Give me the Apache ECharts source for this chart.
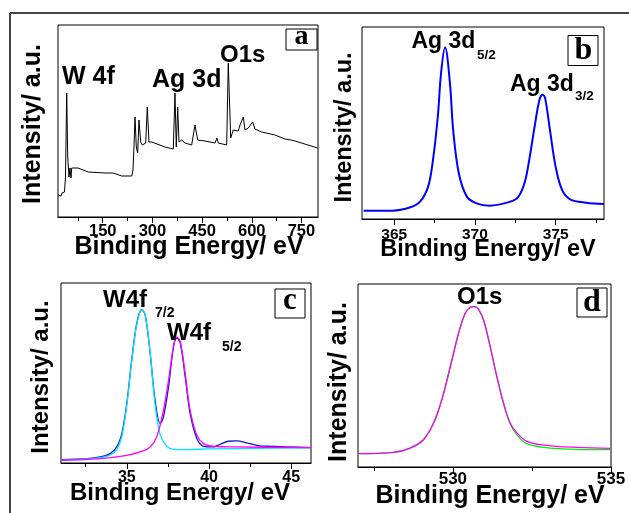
<!DOCTYPE html>
<html>
<head>
<meta charset="utf-8">
<script src="https://cdn.jsdelivr.net/npm/echarts@6/dist/echarts.min.js"></script>
<style>html,body{margin:0;padding:0;background:#fff;}#c{width:629px;height:513px;}</style>
</head>
<body>
<div id="c"></div>
<script>
// ---- Panel a: survey spectrum ----
const surveyBE = [15,19.5,24.1,27.1,31.6,34.6,37.6,41.3,44.3,48.2,51.2,54.2,56.4,75.4,106.5,156.9,181,184,187,207.3,237.5,241.4,244.4,247.5,251.4,255.6,259.5,264.7,269.5,279.8,284.6,289.7,297.9,338,363.1,368.2,372.1,376.4,380.3,388.4,398.4,418.6,428.6,436.7,458.8,489,495,498.9,524.3,529.1,536.4,544.2,559.3,564.5,574.4,579.6,589.5,602.8,609.7,630,670.1,700.3,718.4,730.5,799];
const surveyI  = [22,20,21,24,23,25,40,124,60,40,49,39,49,49,45,44,44,46,44,41,41,47,70,100,70,64,97,75,72,74,110,75,75,70,68,124,70,110,75,77,74,72,92,77,76,74,79,74,72,154,79,87,86,92,100,87,89,95,88,85,82,78,77,76,69];

// ---- Panel b: Ag 3d ----
const agBE = [363.1,364.9,366.0,366.6,367.1,367.4,367.7,367.9,368.15,368.45,368.65,369.0,369.5,370.1,370.9,372.2,372.7,373.1,373.4,373.7,374.0,374.2,374.35,374.65,375.0,375.4,375.9,376.9,378.0];
const agI  = [25,25,35,52,97,177,307,437,514,407,267,137,67,47,40,52,67,112,187,277,357,372,362,267,157,87,59,49,45];

// ---- Panel c: W 4f ----
const wBE      = [31.04,32.57,33.38,33.99,34.39,34.70,35.0,35.30,35.61,35.91,36.12,36.42,36.72,37.03,37.23,37.54,37.84,38.04,38.25,38.55,38.85,39.26,39.67,40.27,40.68,41.19,41.69,42.30,42.91,43.52,46.2];
const wTotal   = [10,13,18,28,48,88,178,308,418,458,443,328,188,118,138,228,348,373,358,258,148,73,50,48,56,65,66,60,53,50,46];
const w72BE    = [31.04,32.57,33.38,33.99,34.39,34.70,35.0,35.30,35.61,35.91,36.12,36.42,36.72,37.03,37.43,37.84,38.5,40.0,43.0,46.2];
const w72I     = [8,12,16,24,40,80,172,305,415,458,443,330,175,85,50,41,40,42,44,45];
const w52BE    = [31.04,33.38,35.0,35.81,36.42,36.82,37.23,37.54,37.84,38.04,38.25,38.55,38.85,39.26,39.67,40.27,41.5,46.2];
const w52I     = [8,13,23,33,48,78,158,248,348,376,363,268,158,83,58,50,48,46];

// ---- Panel d: O 1s ----
const oBE    = [527.01,528.12,528.65,529.07,529.39,529.65,529.92,530.18,530.39,530.55,530.68,530.81,530.97,531.18,531.39,531.60,531.81,532.03,532.34,532.87,533.92,535.0];
const oFit   = [40,44,57,82,132,202,302,402,462,480,482,474,442,362,272,192,132,102,77,66,59,56];
const oBgFit = [40,44,57,82,132,202,302,402,462,480,482,474,442,362,272,192,130,96,70,59,53,52];

// ---- tick labels ----
const ticksA = [150,300,450,600,750], minorA = [75,225,375,525,675];
const ticksB = [365,370,375],        minorB = [367.5,372.5,377.5];
const ticksC = [35,40,45],           minorC = [32.5,37.5,42.5];
const ticksD = [530,535],            minorD = [527.5,532.5];

const zip = (a, b) => a.map((v, i) => [v, b[i]]);
const SANS = '"Liberation Sans", Arial, sans-serif';
const SERIF = '"Liberation Serif", "Times New Roman", serif';

const grids = [
  {left: 58,  top: 25,  width: 260, height: 192},
  {left: 362, top: 27,  width: 242, height: 192},
  {left: 61,  top: 283, width: 250, height: 180},
  {left: 358, top: 284, width: 253, height: 183}
].map(g => Object.assign(g, {show: true, borderColor: '#000', borderWidth: 1, backgroundColor: 'transparent'}));

const xr = [[15, 800], [363, 378], [31, 46.2], [527, 535]];
const yr = [192, 575, 538, 550];
const majors = [ticksA, ticksB, ticksC, ticksD];
const minors = [minorA, minorB, minorC, minorD];
const lblSize = [16.5, 15.5, 16, 17];
const lblMargin = [6, 8, 7, 4];

const xAxis = [], yAxis = [];
for (let g = 0; g < 4; g++) {
  xAxis.push({
    type: 'value', gridIndex: g, position: 'bottom', min: xr[g][0], max: xr[g][1],
    axisLine: {show: true, lineStyle: {color: '#000', width: 1}},
    axisTick: {show: true, inside: false, length: 6, customValues: majors[g], lineStyle: {color: '#000', width: 1}},
    axisLabel: {show: true, customValues: majors[g], margin: lblMargin[g], color: '#000', fontWeight: 'bold',
      fontSize: lblSize[g], fontFamily: SANS, showMaxLabel: true, showMinLabel: true},
    splitLine: {show: false}
  });
  yAxis.push({
    type: 'value', gridIndex: g, min: 0, max: yr[g], show: false, splitLine: {show: false}
  });
}
for (let g = 0; g < 4; g++) {
  xAxis.push({
    type: 'value', gridIndex: g, position: 'bottom', min: xr[g][0], max: xr[g][1],
    axisLine: {show: false},
    axisTick: {show: true, inside: false, length: 4, customValues: minors[g], lineStyle: {color: '#000', width: 1}},
    axisLabel: {show: false},
    splitLine: {show: false}
  });
}

function line(g, data, color, width, smooth) {
  return {type: 'line', xAxisIndex: g, yAxisIndex: g, data: data, showSymbol: false, symbol: 'none',
    smooth: smooth, lineStyle: {color: color, width: width}, animation: false, silent: true};
}

const series = [
  line(0, zip(surveyBE, surveyI), '#000', 1, false),
  line(1, zip(agBE, agI), '#0000ff', 2, 0.35),
  line(2, zip(wBE, wTotal), '#1515c8', 1.3, 0.35),
  line(2, zip(w72BE, w72I), '#00e5ff', 1.3, 0.35),
  line(2, zip(w52BE, w52I), '#ff00ff', 1.3, 0.35),
  line(3, zip(oBE, oBgFit), '#00ee00', 1.3, 0.35),
  line(3, zip(oBE, oFit), '#ff00ff', 1.3, 0.35)
];

function txt(text, x, y, size, opts) {
  opts = opts || {};
  return {type: 'text', x: x, y: y, rotation: opts.rot || 0, z: 100, silent: true,
    style: {text: text, fill: '#000', fontSize: size, fontWeight: 'bold', fontFamily: opts.family || SANS,
      textAlign: opts.align || 'center', textVerticalAlign: 'middle'}};
}
function box(x, y, w, h) {
  return {type: 'rect', z: 99, silent: true, shape: {x: x, y: y, width: w, height: h},
    style: {fill: '#fff', stroke: '#000', lineWidth: 1}};
}
const R = Math.PI / 2;
const graphic = [
  {type: 'line', z: 100, silent: true, shape: {x1: 10, y1: 13, x2: 629, y2: 13}, style: {stroke: '#444', lineWidth: 2}},
  {type: 'line', z: 100, silent: true, shape: {x1: 10, y1: 13, x2: 10, y2: 513}, style: {stroke: '#444', lineWidth: 2}},
  // axis titles
  txt('Binding Energy/ eV', 189, 247.5, 25),
  txt('Binding Energy/ eV', 488, 250, 23.5),
  txt('Binding Energy/ eV', 180, 493.5, 24),
  txt('Binding Energy/ eV', 490, 496, 25),
  txt('Intensity/ a.u.', 33, 124, 25, {rot: R}),
  txt('Intensity/ a.u.', 344.5, 127.5, 23.5, {rot: R}),
  txt('Intensity/ a.u.', 41, 377, 24, {rot: R}),
  txt('Intensity/ a.u.', 339, 382, 25, {rot: R}),
  // panel a peak labels
  txt('W 4f', 62, 77.5, 25, {align: 'left'}),
  txt('Ag 3d', 152, 80, 25, {align: 'left'}),
  txt('O1s', 220, 55, 24, {align: 'left'}),
  // panel b
  txt('Ag 3d', 411.5, 41.7, 23, {align: 'left'}),
  txt('5/2', 477, 55, 13.5, {align: 'left'}),
  txt('Ag 3d', 510, 85, 23, {align: 'left'}),
  txt('3/2', 575, 96.7, 13.5, {align: 'left'}),
  // panel c
  txt('W4f', 103, 300, 24, {align: 'left'}),
  txt('7/2', 155, 313, 14, {align: 'left'}),
  txt('W4f', 167, 333.5, 24, {align: 'left'}),
  txt('5/2', 222, 347.5, 14, {align: 'left'}),
  // panel d
  txt('O1s', 457, 297.5, 24, {align: 'left'}),
  // panel letters
  box(286, 29, 31, 21), txt('a', 301.5, 37, 28, {family: SERIF}),
  box(568, 35.5, 30, 30), txt('b', 583.5, 50.5, 32, {family: SERIF}),
  box(275, 289, 30, 29), txt('c', 290, 300.5, 31, {family: SERIF}),
  box(577, 288, 30, 29), txt('d', 592, 302.5, 32, {family: SERIF})
];

const chart = echarts.init(document.getElementById('c'), null, {renderer: 'canvas', width: 629, height: 513});
chart.setOption({
  animation: false,
  backgroundColor: '#fff',
  grid: grids,
  xAxis: xAxis,
  yAxis: yAxis,
  series: series,
  graphic: graphic
});
</script>
</body>
</html>
